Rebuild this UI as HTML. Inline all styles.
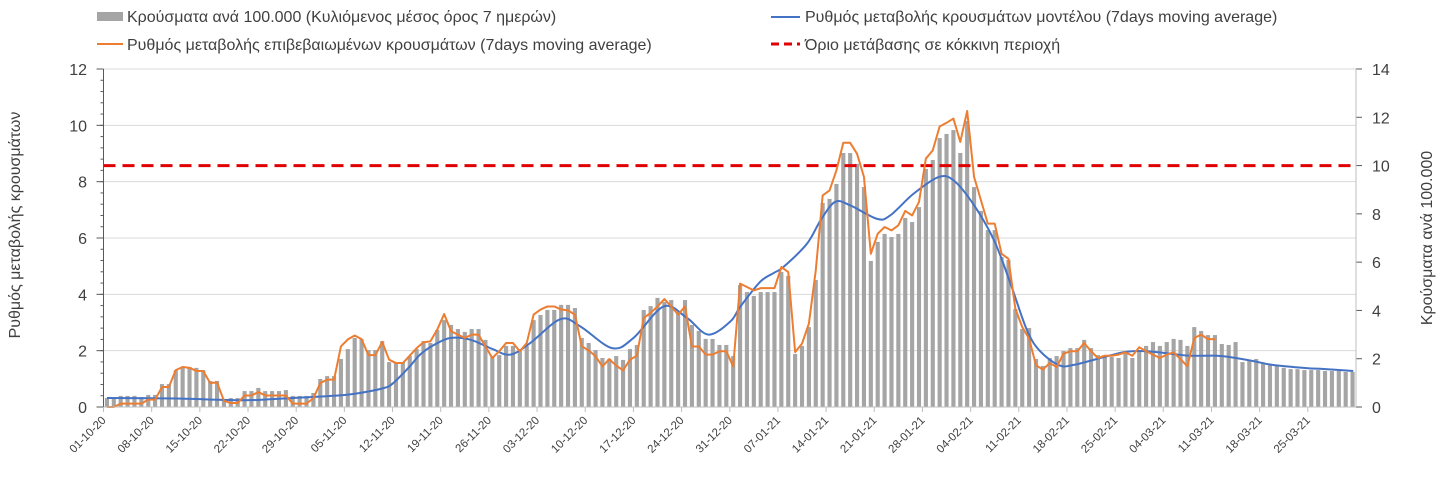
<!DOCTYPE html>
<html><head><meta charset="utf-8">
<style>
html,body{margin:0;padding:0;background:#fff;}
svg{display:block;font-family:"Liberation Sans",sans-serif;}
</style></head>
<body>
<svg id="chart" width="1446" height="488" viewBox="0 0 1446 488" xmlns="http://www.w3.org/2000/svg">
  <g id="legend" font-size="16" fill="#404040">
    <g>
      <rect x="97" y="12" width="26" height="9" fill="#a5a5a5"/>
      <text x="127" y="22">Κρούσματα ανά 100.000 (Κυλιόμενος μέσος όρος 7 ημερών)</text>
    </g>
    <g>
      <line x1="771" y1="17" x2="800" y2="17" stroke="#4472c4" stroke-width="2"/>
      <text x="805" y="22">Ρυθμός μεταβολής κρουσμάτων μοντέλου (7days moving average)</text>
    </g>
    <g>
      <line x1="97" y1="44" x2="123" y2="44" stroke="#ed7d31" stroke-width="2"/>
      <text x="127" y="50">Ρυθμός μεταβολής επιβεβαιωμένων κρουσμάτων (7days moving average)</text>
    </g>
    <g>
      <line x1="771" y1="44" x2="800" y2="44" stroke="#e00000" stroke-width="3" stroke-dasharray="8,5"/>
      <text x="805" y="50">Όριο μετάβασης σε κόκκινη περιοχή</text>
    </g>
  </g>
  <g id="grid"></g>
  <g id="bars"></g>
  <g id="lines"></g>
  <g id="axes"></g>
  <text transform="translate(20,225) rotate(-90)" text-anchor="middle" font-size="16" fill="#404040">Ρυθμός μεταβολής κρουσμάτων</text>
  <text transform="translate(1432,238) rotate(-90)" text-anchor="middle" font-size="16" fill="#404040">Κρούσματα ανά 100.000</text>
</svg>
<script>
const startDate = [2020, 10, 1];
const dayCount = 182;
const leftTicks = [0, 2, 4, 6, 8, 10, 12];
const rightTicks = [0, 2, 4, 6, 8, 10, 12, 14];
const redThreshold = 10;
const casesBars = [0.37,0.33,0.46,0.46,0.46,0.41,0.50,0.50,0.95,0.95,
1.53,1.66,1.66,1.62,1.53,1.08,1.08,0.30,0.37,0.37,
0.66,0.66,0.79,0.66,0.66,0.66,0.70,0.46,0.46,0.46,
0.58,1.16,1.28,1.28,1.99,2.40,2.86,2.82,2.36,2.36,
2.73,1.86,1.86,1.86,2.11,2.40,2.73,2.65,3.19,3.60,
3.40,3.23,3.11,3.23,3.23,2.78,2.11,2.15,2.53,2.53,
2.32,2.53,3.60,3.81,4.02,4.02,4.23,4.23,4.10,2.86,
2.65,2.36,2.03,1.99,2.11,1.95,2.40,2.57,4.02,4.18,
4.52,4.35,4.43,3.94,4.43,3.40,3.15,2.82,2.82,2.57,
2.57,2.11,5.05,4.76,4.60,4.76,4.76,4.76,5.59,5.43,
2.20,2.53,3.31,5.26,8.45,8.62,9.24,10.52,10.52,10.07,
9.11,6.05,6.84,7.17,7.04,7.17,7.83,7.66,8.28,9.86,
10.23,11.14,11.31,11.47,10.52,11.85,9.11,8.12,7.33,7.33,
6.21,6.09,4.06,3.23,3.27,1.99,1.70,2.03,2.11,2.32,
2.44,2.44,2.78,2.44,2.15,2.11,2.07,2.03,2.24,2.03,
2.36,2.53,2.69,2.53,2.69,2.82,2.78,2.53,3.31,3.15,
2.98,2.98,2.61,2.57,2.69,1.86,1.95,1.99,1.82,1.74,
1.70,1.62,1.57,1.57,1.53,1.53,1.53,1.49,1.49,1.49,
1.45,1.45];
const confirmedRate = [0,0,0.12,0.12,0.12,0.12,0.26,0.26,0.71,0.71,
1.31,1.42,1.39,1.28,1.28,0.85,0.87,0.22,0.14,0.14,
0.41,0.41,0.53,0.41,0.41,0.41,0.41,0.12,0.12,0.12,
0.31,0.85,0.97,0.97,2.15,2.4,2.54,2.41,1.84,1.84,
2.31,1.68,1.56,1.56,1.82,2.09,2.3,2.33,2.75,3.3,
2.69,2.57,2.45,2.57,2.57,2.15,1.74,1.98,2.27,2.27,
1.98,2.27,3.28,3.46,3.57,3.57,3.46,3.43,3.28,2.15,
2.01,1.8,1.44,1.7,1.47,1.3,1.68,1.82,3.16,3.34,
3.57,3.83,3.57,3.28,3.57,2.15,2.15,1.86,1.86,1.98,
1.98,1.44,4.38,4.26,4.14,4.22,4.22,4.22,4.97,4.79,
1.95,2.25,2.96,4.85,7.51,7.69,8.4,9.38,9.38,8.99,
8.17,5.44,6.15,6.39,6.27,6.45,6.96,6.8,7.28,8.82,
9.11,9.96,10.09,10.24,9.41,10.51,8.17,7.34,6.51,6.51,
5.44,5.26,3.49,2.84,2.43,1.48,1.33,1.56,1.42,1.89,
1.98,1.98,2.27,1.98,1.74,1.82,1.82,1.86,1.94,1.82,
2.12,1.98,1.86,1.74,1.86,1.94,1.7,1.44,2.45,2.57,
2.41,2.41];
const modelDays = [0,10,20,27,33,36,40.2,41.6,44,45.5,47.5,49.9,52.8,56,58.6,61.5,65.9,68.8,73.4,76.5,80.9,84.3,87.4,90.6,92,94.9,96.9,98.3,101.7,103.7,105.8,108,111.9,113.8,117.2,120.8,123,125.9,128.9,131.3,133.7,135.6,138.3,140.4,145.3,148.2,151.1,155,157.4,161.3,163.2,166.6,169.5,174.3,176.8,181.1];
const modelRate = [0.32,0.30,0.24,0.32,0.40,0.47,0.67,0.85,1.44,1.86,2.2,2.45,2.39,2.06,1.86,2.27,3.12,2.86,2.09,2.45,3.57,3.16,2.57,3.04,3.55,4.44,4.76,4.97,5.79,6.63,7.28,7.16,6.68,6.8,7.57,8.16,8.05,7.2,5.92,4.38,2.72,1.98,1.49,1.49,1.80,1.96,1.98,1.88,1.82,1.82,1.77,1.63,1.49,1.38,1.35,1.28];

const NS = "http://www.w3.org/2000/svg";
const X0 = 103.5, X1 = 1356, YT = 69, YB = 407;
const band = (X1 - X0) / dayCount;
const xDay = d => X0 + band * (d + 0.5);
const xEdge = d => X0 + band * d;
const yL = v => YB - (YB - YT) * v / 12;
const yR = v => YB - (YB - YT) * v / 14;
function mk(tag, attrs, parent) {
  const e = document.createElementNS(NS, tag);
  for (const k in attrs) e.setAttribute(k, attrs[k]);
  parent.appendChild(e);
  return e;
}
const grid = document.getElementById('grid');
const bars = document.getElementById('bars');
const lines = document.getElementById('lines');
const axes = document.getElementById('axes');

leftTicks.forEach(t => {
  if (t > 0) {
    const g = mk('line', {x1: X0, x2: X1, y1: yL(t), y2: yL(t), stroke: '#d9d9d9', 'stroke-width': 1}, grid);
    
    
  }
  const tk = mk('line', {x1: X0 - 7, x2: X0, y1: yL(t), y2: yL(t), stroke: '#595959'}, axes);
  
  
  const lb = mk('text', {x: 87, y: yL(t) + 6, 'text-anchor': 'end', 'font-size': 16, fill: '#404040'}, axes);
  lb.textContent = t;
  
  
});
for (let v = 0; v <= 12.001; v += 0.4) {
  mk('line', {x1: X0 - 3, x2: X0, y1: yL(v), y2: yL(v), stroke: '#595959'}, axes);
}
rightTicks.forEach(t => {
  const tk = mk('line', {x1: X1, x2: X1 + 6, y1: yR(t), y2: yR(t), stroke: '#595959'}, axes);
  
  
  const lb = mk('text', {x: 1372, y: yR(t) + 6, 'font-size': 16, fill: '#404040'}, axes);
  lb.textContent = t;
  
  
});
mk('line', {x1: X0, x2: X0, y1: YT, y2: YB, stroke: '#595959'}, axes);
mk('line', {x1: X1, x2: X1, y1: YT, y2: YB, stroke: '#bfbfbf'}, axes);
mk('line', {x1: X0, x2: X1, y1: YB, y2: YB, stroke: '#bfbfbf'}, axes);

const d0 = new Date(startDate[0], startDate[1] - 1, startDate[2], 12);
for (let d = 0; d < dayCount; d += 7) {
  const x = xEdge(d);
  mk('line', {x1: x, x2: x, y1: YB, y2: YB + 5, stroke: '#bfbfbf'}, axes);
  const dt = new Date(d0.getTime() + d * 86400000);
  const s = String(dt.getDate()).padStart(2, '0') + '-' + String(dt.getMonth() + 1).padStart(2, '0') + '-' + String(dt.getFullYear() % 100).padStart(2, '0');
  const lb = mk('text', {x: x + 3, y: YB + 14, 'text-anchor': 'end', 'font-size': 11.5, fill: '#404040', transform: `rotate(-45 ${x + 3} ${YB + 14})`}, axes);
  lb.textContent = s;
  
  
}

const bw = band * 0.6;
casesBars.forEach((v, i) => {
  const r = mk('rect', {x: xDay(i) - bw / 2, y: yR(v), width: bw, height: YB - yR(v), fill: '#a5a5a5'}, bars);
  
  
});

const red = mk('line', {x1: X0, x2: X1, y1: yR(redThreshold), y2: yR(redThreshold), stroke: '#e00000', 'stroke-width': 3, 'stroke-dasharray': '12,7'}, lines);



const pts = modelDays.map((d, i) => [xDay(d), yL(modelRate[i])]);
let dpath = 'M' + pts[0][0] + ',' + pts[0][1];
for (let i = 0; i < pts.length - 1; i++) {
  const p0 = pts[Math.max(0, i - 1)], p1 = pts[i], p2 = pts[i + 1], p3 = pts[Math.min(pts.length - 1, i + 2)];
  const c1 = [p1[0] + (p2[0] - p0[0]) / 6, p1[1] + (p2[1] - p0[1]) / 6];
  const c2 = [p2[0] - (p3[0] - p1[0]) / 6, p2[1] - (p3[1] - p1[1]) / 6];
  dpath += ` C${c1[0]},${c1[1]} ${c2[0]},${c2[1]} ${p2[0]},${p2[1]}`;
}
const blue = mk('path', {d: dpath, fill: 'none', stroke: '#4472c4', 'stroke-width': 2}, lines);



const orange = mk('polyline', {points: confirmedRate.map((v, i) => xDay(i) + ',' + yL(v)).join(' '), fill: 'none', stroke: '#ed7d31', 'stroke-width': 2, 'stroke-linejoin': 'round'}, lines);


</script>
</body></html>
